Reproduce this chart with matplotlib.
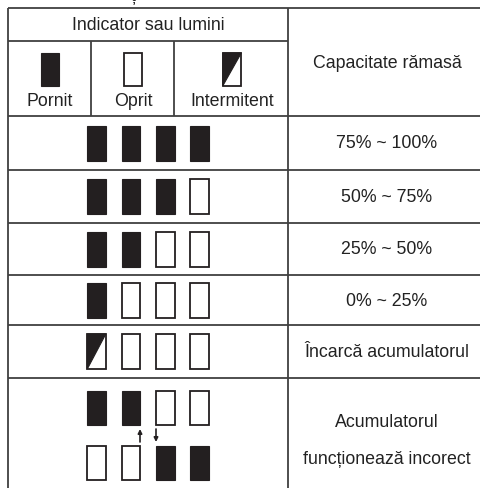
import matplotlib.pyplot as plt
from matplotlib.patches import Rectangle, Polygon

plt.rcParams['font.family'] = ['Liberation Sans', 'DejaVu Sans']

# indicator states per row: 1 = on, 0 = off, 2 = flashing
header_title = "Indicator sau lumini"
legend_labels = ["Pornit", "Oprit", "Intermitent"]
legend_states = [1, 0, 2]
capacity_header = "Capacitate rămasă"
row_states = [
    [[1, 1, 1, 1]],
    [[1, 1, 1, 0]],
    [[1, 1, 0, 0]],
    [[1, 0, 0, 0]],
    [[2, 0, 0, 0]],
    [[1, 1, 0, 0], [0, 0, 1, 1]],
]
row_labels = ["75% ~ 100%", "50% ~ 75%", "25% ~ 50%", "0% ~ 25%",
              "Încarcă acumulatorul", "Acumulatorul\nfuncționează incorect"]

# layout in pixels
W, H = 480, 489
left, mid, right = 8, 288, 486
top, head_split, head_bot = 9, 42, 117
row_edges = [117, 171, 224, 276, 326, 379, 489]
bar_x = [87.3, 121.7, 156, 190]
bar_w, bar_h = 18.5, 35
ink = "#231f20"
line_c = "#404040"
fs = 12.8

fig = plt.figure(figsize=(W / 100, H / 100), dpi=100)
ax = fig.add_axes([0, 0, 1, 1])
ax.set_xlim(0, W)
ax.set_ylim(H, 0)
ax.axis('off')


def cell(x, y, w, h, state):
    if state == 1:
        ax.add_patch(Rectangle((x, y), w, h, facecolor=ink, edgecolor=ink, lw=0.8))
    elif state == 0:
        ax.add_patch(Rectangle((x, y), w, h, facecolor='white', edgecolor=ink, lw=1.3))
    else:
        ax.add_patch(Rectangle((x, y), w, h, facecolor='white', edgecolor=ink, lw=1.3))
        ax.add_patch(Polygon([(x, y), (x + w, y), (x, y + h)], closed=True,
                             facecolor=ink, edgecolor=ink, lw=0.8))


def hline(y, x0, x1):
    ax.plot([x0, x1], [y, y], color=line_c, lw=1.3, solid_capstyle='butt')


def vline(x, y0, y1):
    ax.plot([x, x], [y0, y1], color=line_c, lw=1.3, solid_capstyle='butt')


# grid
hline(top, left, right)
hline(head_split, left, mid)
for y in row_edges[:-1]:
    hline(y, left, right)
vline(left, top, H)
vline(mid, top, H)
vline(91, head_split, head_bot)
vline(174, head_split, head_bot)

# cut-off title fragment at the top
ax.text(133, 1, "ț", fontsize=fs, ha='center', va='baseline', color='#222')

# header
ax.text((left + mid) / 2, 25.5, header_title, fontsize=fs, ha='center', va='center', color='#222')
legend_cx = [50, 133, 232]
for cx, lab, st in zip(legend_cx, legend_labels, legend_states):
    cell(cx - 9.3, 54, 18.6, 33, st)
    ax.text(cx, 102, lab, fontsize=fs, ha='center', va='center', color='#222')
ax.text(387, 63, capacity_header, fontsize=fs, ha='center', va='center', color='#222')

# rows
for i, (states, lab) in enumerate(zip(row_states, row_labels)):
    y0, y1 = row_edges[i], row_edges[i + 1]
    if len(states) == 1:
        yc = (y0 + y1) / 2
        for x, st in zip(bar_x, states[0]):
            cell(x, yc - bar_h / 2, bar_w, bar_h, st)
        ax.text(387, yc, lab, fontsize=fs, ha='center', va='center', color='#222')
    else:
        for yt, line in zip([391.5, 446.5], states):
            for x, st in zip(bar_x, line):
                cell(x, yt, bar_w, 34, st)
        ax.annotate("", xy=(140, 430), xytext=(140, 443),
                    arrowprops=dict(arrowstyle='-|>', color=ink, lw=1.2,
                                    mutation_scale=6, shrinkA=0, shrinkB=0))
        ax.annotate("", xy=(156, 443), xytext=(156, 430),
                    arrowprops=dict(arrowstyle='-|>', color=ink, lw=1.2,
                                    mutation_scale=6, shrinkA=0, shrinkB=0))
        ax.text(387, 441, lab, fontsize=fs, ha='center', va='center',
                color='#222', linespacing=2.5)

fig.savefig("out.png", dpi=100)
